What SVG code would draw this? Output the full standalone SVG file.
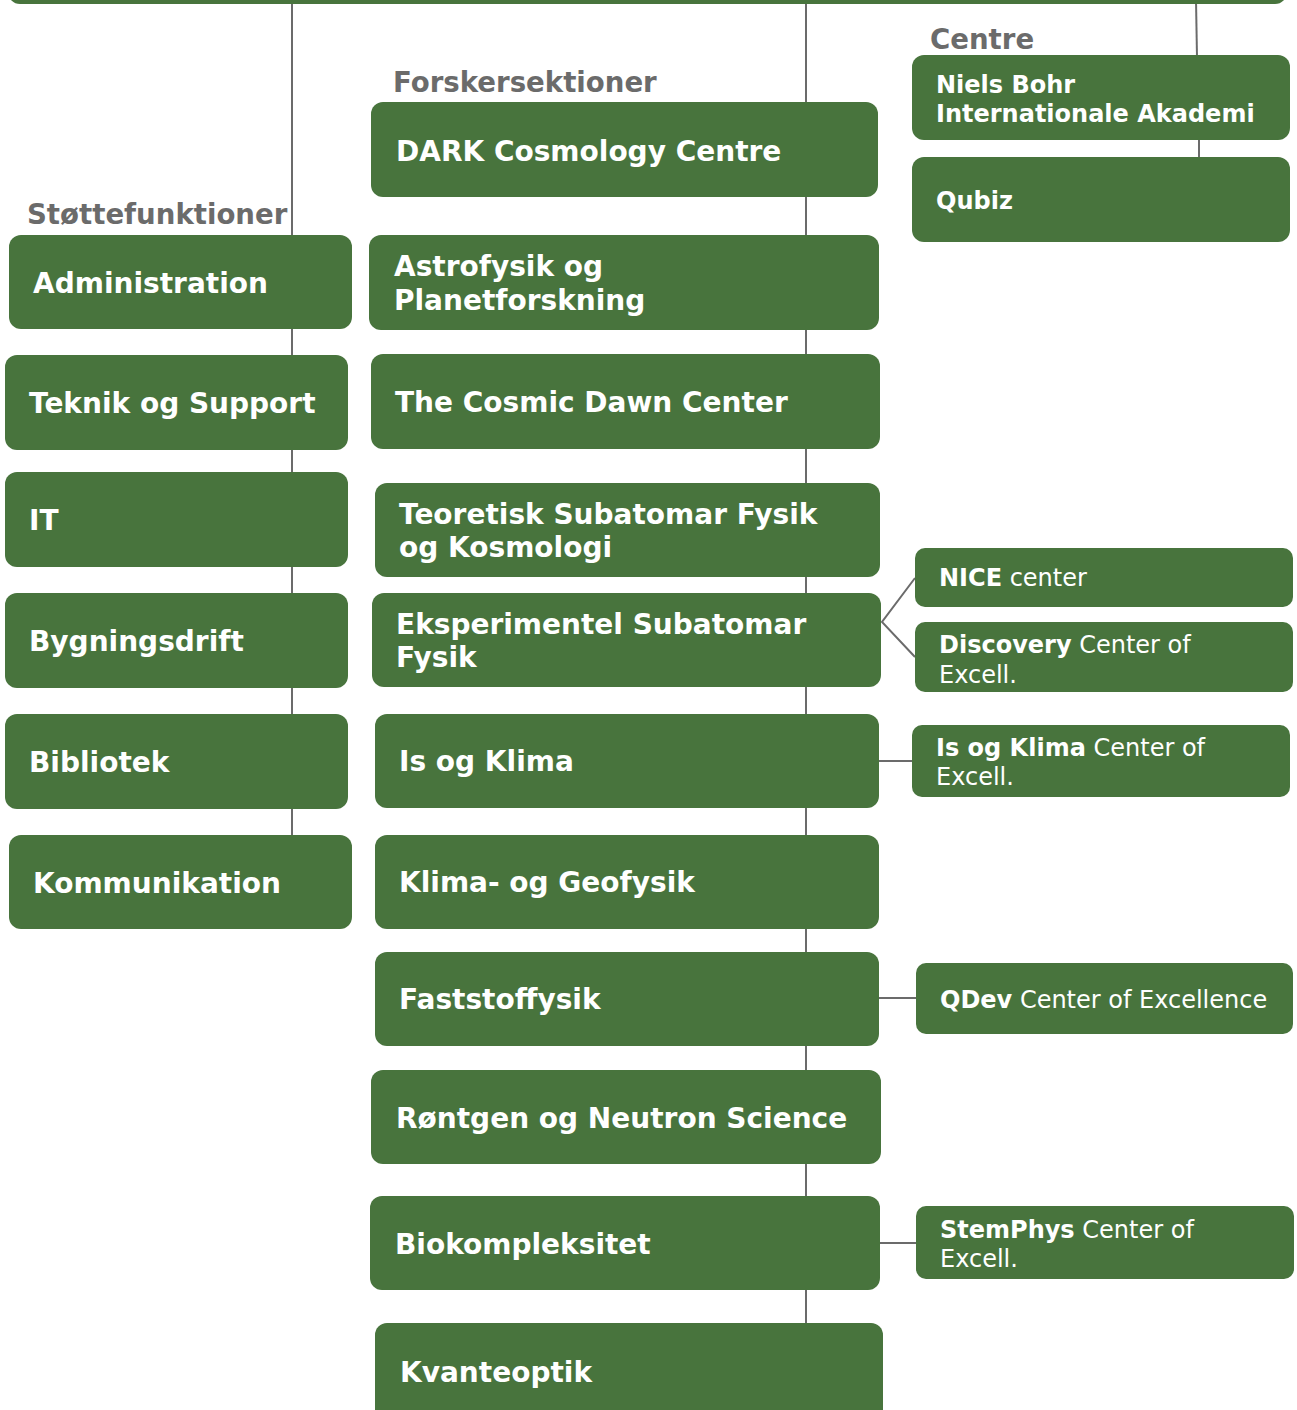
<svg xmlns="http://www.w3.org/2000/svg" width="1297" height="1410" viewBox="0 0 1297 1410">
<style>
.box{fill:#48743d}
.t{font-family:"DejaVu Sans",Verdana,sans-serif;font-weight:bold;font-size:28px;fill:#ffffff}
.s{font-family:"DejaVu Sans",Verdana,sans-serif;font-size:24px;fill:#ffffff}
.s tspan.b{font-weight:bold}
.h{font-family:"DejaVu Sans",Verdana,sans-serif;font-weight:bold;font-size:27.6px;fill:#6b6b6b}
.c{stroke:#6b6b6b;stroke-width:2;fill:none}
</style>
<rect width="1297" height="1410" fill="#ffffff"/>
<g id="connectors">
<line class="c" x1="292" y1="0" x2="292" y2="835"/>
<line class="c" x1="806" y1="0" x2="806" y2="1325"/>
<line class="c" x1="1196" y1="0" x2="1197" y2="57"/>
<line class="c" x1="1199" y1="139" x2="1199" y2="158"/>
<polyline class="c" points="915,578 882,622 915,657"/>
<line class="c" x1="878" y1="761" x2="913" y2="761"/>
<line class="c" x1="878" y1="998" x2="917" y2="998"/>
<line class="c" x1="879" y1="1243" x2="917" y2="1243"/>
</g>
<g id="top"><rect class="box" x="8" y="-40" width="1279" height="44" rx="12"/></g>
<text class="h" x="27" y="224">Støttefunktioner</text>
<text class="h" x="393" y="92">Forskersektioner</text>
<text class="h" x="930" y="49">Centre</text>

<g id="administration"><rect class="box" x="9" y="235" width="343" height="94" rx="12"/><text class="t" x="33" y="293">Administration</text></g>
<g id="teknik"><rect class="box" x="5" y="355" width="343" height="95" rx="12"/><text class="t" x="29" y="413">Teknik og Support</text></g>
<g id="it"><rect class="box" x="5" y="472" width="343" height="95" rx="12"/><text class="t" x="29" y="530">IT</text></g>
<g id="bygningsdrift"><rect class="box" x="5" y="593" width="343" height="95" rx="12"/><text class="t" x="29" y="651">Bygningsdrift</text></g>
<g id="bibliotek"><rect class="box" x="5" y="714" width="343" height="95" rx="12"/><text class="t" x="29" y="772">Bibliotek</text></g>
<g id="kommunikation"><rect class="box" x="9" y="835" width="343" height="94" rx="12"/><text class="t" x="33" y="893">Kommunikation</text></g>

<g id="dark"><rect class="box" x="371" y="102" width="507" height="95" rx="12"/><text class="t" x="396" y="161">DARK Cosmology Centre</text></g>
<g id="astro"><rect class="box" x="369" y="235" width="510" height="95" rx="12"/><text class="t" x="394" y="276">Astrofysik og</text><text class="t" x="394" y="310">Planetforskning</text></g>
<g id="cosmicdawn"><rect class="box" x="371" y="354" width="509" height="95" rx="12"/><text class="t" x="395" y="412">The Cosmic Dawn Center</text></g>
<g id="teoretisk"><rect class="box" x="375" y="483" width="505" height="94" rx="12"/><text class="t" x="399" y="524">Teoretisk Subatomar Fysik</text><text class="t" x="399" y="557">og Kosmologi</text></g>
<g id="eksperimentel"><rect class="box" x="372" y="593" width="509" height="94" rx="12"/><text class="t" x="396" y="634">Eksperimentel Subatomar</text><text class="t" x="396" y="667">Fysik</text></g>
<g id="isklima"><rect class="box" x="375" y="714" width="504" height="94" rx="12"/><text class="t" x="399" y="771">Is og Klima</text></g>
<g id="geofysik"><rect class="box" x="375" y="835" width="504" height="94" rx="12"/><text class="t" x="399" y="892">Klima- og Geofysik</text></g>
<g id="faststof"><rect class="box" x="375" y="952" width="504" height="94" rx="12"/><text class="t" x="399" y="1009">Faststoffysik</text></g>
<g id="rontgen"><rect class="box" x="371" y="1070" width="510" height="94" rx="12"/><text class="t" x="396" y="1128">Røntgen og Neutron Science</text></g>
<g id="biokompleksitet"><rect class="box" x="370" y="1196" width="510" height="94" rx="12"/><text class="t" x="395" y="1254">Biokompleksitet</text></g>
<g id="kvanteoptik"><rect class="box" x="375" y="1323" width="508" height="110" rx="12"/><text class="t" x="400" y="1382">Kvanteoptik</text></g>

<g id="nbia"><rect class="box" x="912" y="55" width="378" height="85" rx="12"/><text class="s" x="936" y="93"><tspan class="b">Niels Bohr</tspan></text><text class="s" x="936" y="122"><tspan class="b">Internationale Akademi</tspan></text></g>
<g id="qubiz"><rect class="box" x="912" y="157" width="378" height="85" rx="12"/><text class="s" x="936" y="209"><tspan class="b">Qubiz</tspan></text></g>
<g id="nice"><rect class="box" x="915" y="548" width="378" height="59" rx="10"/><text class="s" x="939" y="586"><tspan class="b">NICE</tspan> center</text></g>
<g id="discovery"><rect class="box" x="915" y="622" width="378" height="70" rx="10"/><text class="s" x="939" y="653"><tspan class="b">Discovery</tspan> Center of</text><text class="s" x="939" y="683">Excell.</text></g>
<g id="isklimacoe"><rect class="box" x="912" y="725" width="378" height="72" rx="10"/><text class="s" x="936" y="756"><tspan class="b">Is og Klima</tspan> Center of</text><text class="s" x="936" y="785">Excell.</text></g>
<g id="qdev"><rect class="box" x="916" y="963" width="377" height="71" rx="10"/><text class="s" x="940" y="1008"><tspan class="b">QDev</tspan> Center of Excellence</text></g>
<g id="stemphys"><rect class="box" x="916" y="1206" width="378" height="73" rx="10"/><text class="s" x="940" y="1238"><tspan class="b">StemPhys</tspan> Center of</text><text class="s" x="940" y="1267">Excell.</text></g>
</svg>
